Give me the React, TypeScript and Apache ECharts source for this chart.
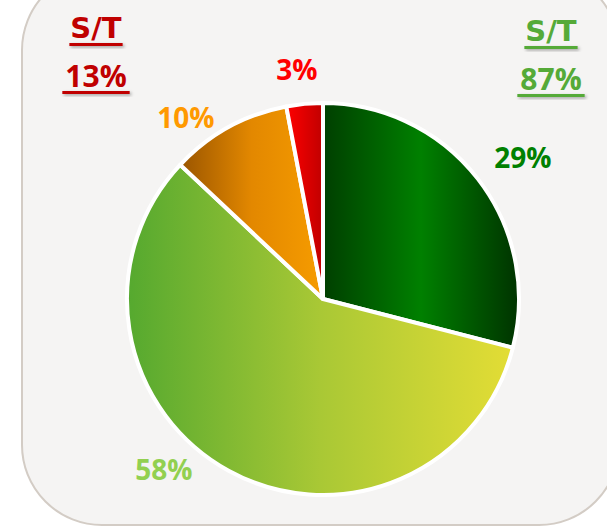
import React, { useEffect, useRef } from 'react';
import * as echarts from 'echarts';

// ---- data ----
const categories = ['Segment 1', 'Segment 2', 'Segment 3', 'Segment 4'];
const values = [29, 58, 10, 3];
const summaryLabel = 'S/T';
const greenGroup = [0, 1];
const redGroup = [2, 3];

// ---- styles / layout ----
const CX = 323;
const CY = 299;
const R = 196;
const sliceStops: [number, string][][] = [
  [[0, '#003f00'], [0.5, '#008000'], [1, '#003300']],
  [[0, '#55a92f'], [0.5, '#a9c835'], [1, '#e3dd35']],
  [[0, '#9a5500'], [0.5, '#e38800'], [1, '#f69c00']],
  [[0, '#ff0000'], [1, '#c00000']],
];
const labelColors = ['#008000', '#92d050', '#ff9900', '#ff0000'];
// label placement: [angle nudge in degrees, distance from centre]
const labelPlacement: [number, number][] = [
  [2.5, 245],
  [14.3, 233],
  [-8.2, 228],
  [-1.1, 231],
];
const RED = '#c00000';
const GREEN = '#55aa38';
const FONT_PCT = '"Open Sans", "Noto Sans", sans-serif';
const FONT_ST = '"DejaVu Sans", Verdana, sans-serif';

function textWidth(text: string, font: string): number {
  const c = document.createElement('canvas');
  const ctx = c.getContext('2d');
  if (!ctx) return text.length * 18;
  ctx.font = font;
  return ctx.measureText(text).width;
}

function summaryBlock(cx: number, y1: number, y2: number, color: string, pct: number, dy: number) {
  const stFont = `bold 29px ${FONT_ST}`;
  const pctFont = `bold 30px ${FONT_PCT}`;
  const pctText = `${pct}%`;
  const w1 = textWidth(summaryLabel, stFont) + 2;
  const w2 = textWidth(pctText, pctFont) + 6;
  const shadow = {
    shadowColor: 'rgba(0,0,0,0.35)',
    shadowBlur: 3,
    shadowOffsetX: 1.5,
    shadowOffsetY: 1.5,
  };
  return [
    {
      type: 'text',
      z: 10,
      style: {
        text: summaryLabel,
        x: cx,
        y: y1 + dy,
        font: stFont,
        fill: color,
        textAlign: 'center',
        textVerticalAlign: 'middle',
        ...shadow,
      },
    },
    {
      type: 'rect',
      z: 10,
      shape: { x: cx - w1 / 2, y: y1 + dy + 15, width: w1, height: 3 },
      style: { fill: color, ...shadow },
    },
    {
      type: 'text',
      z: 10,
      style: {
        text: pctText,
        x: cx,
        y: y2 + dy,
        font: pctFont,
        fill: color,
        textAlign: 'center',
        textVerticalAlign: 'middle',
        ...shadow,
      },
    },
    {
      type: 'rect',
      z: 10,
      shape: { x: cx - w2 / 2, y: y2 + dy + 16, width: w2, height: 3 },
      style: { fill: color, ...shadow },
    },
  ];
}

export default function App() {
  const ref = useRef<HTMLDivElement>(null);

  useEffect(() => {
    if (!ref.current) return;
    const chart = echarts.init(ref.current, null, { renderer: 'svg' });

    const total = values.reduce((a, b) => a + b, 0);
    const mids: number[] = [];
    let acc = 0;
    values.forEach((v) => {
      mids.push(((acc + v / 2) / total) * 360);
      acc += v;
    });
    const greenSum = greenGroup.reduce((a, i) => a + values[i], 0);
    const redSum = redGroup.reduce((a, i) => a + values[i], 0);

    const data = values.map((v, i) => ({
      name: categories[i],
      value: v,
      itemStyle: {
        color: new echarts.graphic.LinearGradient(
          0,
          0,
          1,
          0,
          sliceStops[i].map(([offset, color]) => ({ offset, color }))
        ),
      },
      label: { color: labelColors[i] },
    }));

    chart.setOption({
      animation: false,
      backgroundColor: '#ffffff',
      graphic: [
        {
          type: 'rect',
          z: 0,
          shape: { x: 22, y: -30, width: 597, height: 555, r: 80 },
          style: { fill: '#f5f4f3', stroke: '#d3ccc5', lineWidth: 2 },
        },
        ...summaryBlock(96, 28, 75, RED, redSum, 0),
        ...summaryBlock(551, 28, 75, GREEN, greenSum, 3),
      ],
      series: [
        {
          type: 'pie',
          center: [CX, CY],
          radius: R,
          startAngle: 90,
          clockwise: true,
          avoidLabelOverlap: false,
          itemStyle: { borderColor: '#ffffff', borderWidth: 4 },
          label: {
            show: true,
            position: 'outside',
            formatter: '{c}%',
            fontFamily: FONT_PCT,
            fontWeight: 'bold',
            fontSize: 28,
          },
          labelLine: { show: false },
          labelLayout: (params: any) => {
            const i = params.dataIndex;
            const [nudge, dist] = labelPlacement[i];
            const a = ((mids[i] + nudge) * Math.PI) / 180;
            return {
              x: CX + dist * Math.sin(a),
              y: CY - dist * Math.cos(a),
              align: 'center',
              verticalAlign: 'middle',
            };
          },
          emphasis: { disabled: true },
          data,
        },
      ],
    });

    return () => chart.dispose();
  }, []);

  return (
    <div
      ref={ref}
      style={{ position: 'fixed', left: 0, top: 0, width: 607, height: 526 }}
    />
  );
}
